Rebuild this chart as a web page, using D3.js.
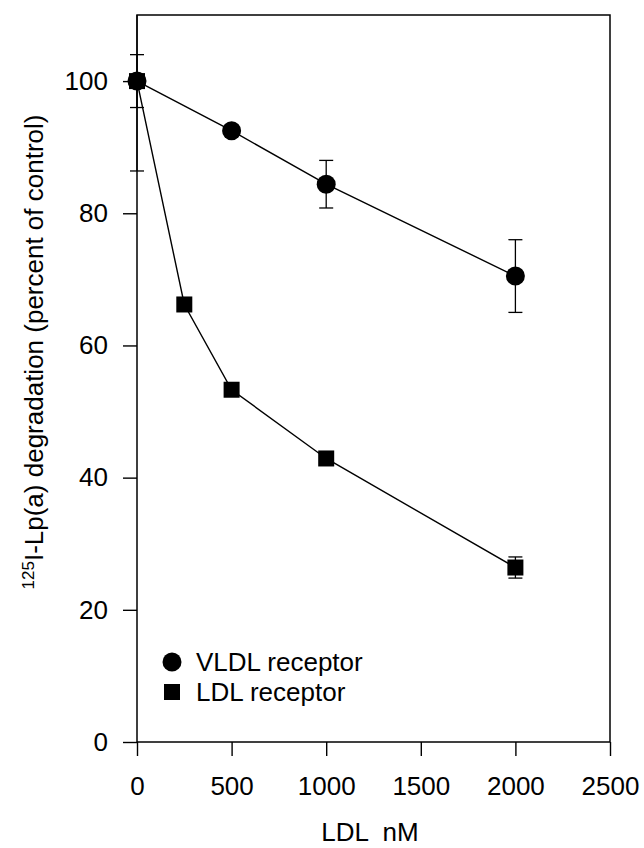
<!DOCTYPE html>
<html>
<head>
<meta charset="utf-8">
<script src="https://cdn.jsdelivr.net/npm/d3@7"></script>
<style>
  body { margin: 0; background: #fff; }
  text { font-family: "Liberation Sans", Arial, sans-serif; fill: #000; }
</style>
</head>
<body>
<div id="chart"></div>
<script>
// LDL concentration (nM)
const vldlX = [0, 500, 1000, 2000];
const vldlY = [100, 92.5, 84.4, 70.5];
const vldlErr = [4, 0.8, 3.6, 5.5];

const ldlX = [0, 250, 500, 1000, 2000];
const ldlY = [100, 66.2, 53.3, 42.9, 26.4];
const ldlErr = [13.6, 1.0, 0.6, 0.6, 1.6];

const xTicks = [0, 500, 1000, 1500, 2000, 2500];
const yTicks = [0, 20, 40, 60, 80, 100];
const seriesNames = ["VLDL receptor", "LDL receptor"];

const width = 644, height = 848;
const margin = {top: 15, right: 34, bottom: 106, left: 137};
const fs = 26;

const svg = d3.select("#chart").append("svg")
    .attr("width", width)
    .attr("height", height);

const x = d3.scaleLinear().domain([0, 2500]).range([margin.left, width - margin.right]);
const y = d3.scaleLinear().domain([0, 110]).range([height - margin.bottom, margin.top]);

// frame
svg.append("rect")
    .attr("x", x(0)).attr("y", y(110))
    .attr("width", x(2500) - x(0)).attr("height", y(0) - y(110))
    .attr("fill", "none").attr("stroke", "#000").attr("stroke-width", 1.5);

const xAxis = d3.axisBottom(x).tickValues(xTicks).tickSize(14).tickPadding(21).tickFormat(d3.format("d"));
const yAxis = d3.axisLeft(y).tickValues(yTicks).tickSize(14).tickPadding(15);

svg.append("g")
    .attr("transform", "translate(0," + y(0) + ")")
    .call(xAxis)
    .call(g => g.select(".domain").remove())
    .call(g => g.selectAll("line").attr("stroke-width", 1.4))
    .call(g => g.selectAll("text").attr("font-size", fs).attr("font-family", "Liberation Sans, Arial, sans-serif"));

svg.append("g")
    .attr("transform", "translate(" + x(0) + ",0)")
    .call(yAxis)
    .call(g => g.select(".domain").remove())
    .call(g => g.selectAll("line").attr("stroke-width", 1.4))
    .call(g => g.selectAll("text").attr("font-size", fs).attr("font-family", "Liberation Sans, Arial, sans-serif"));

// axis titles
svg.append("text")
    .attr("x", 370).attr("y", 841)
    .attr("text-anchor", "middle")
    .attr("font-size", fs)
    .attr("xml:space", "preserve")
    .text("LDL  nM");

const yTitle = svg.append("text")
    .attr("transform", "translate(43,352) rotate(-90)")
    .attr("text-anchor", "middle")
    .attr("font-size", fs);
yTitle.append("tspan").attr("font-size", 17).attr("dy", -9).text("125");
yTitle.append("tspan").attr("dy", 9).text("I-Lp(a) degradation (percent of control)");

// clip for error bars beyond the frame
svg.append("clipPath").attr("id", "plotClip")
    .append("rect")
    .attr("x", x(0) - 20).attr("y", y(110))
    .attr("width", x(2500) - x(0) + 40).attr("height", y(0) - y(110));

const plot = svg.append("g").attr("clip-path", "url(#plotClip)");

const line = d3.line().x(d => x(d[0])).y(d => y(d[1]));

function drawErrors(xs, ys, es) {
    xs.forEach((xv, i) => {
        const g = plot.append("g").attr("stroke", "#000").attr("stroke-width", 1.3);
        g.append("line").attr("x1", x(xv)).attr("x2", x(xv))
            .attr("y1", y(ys[i] + es[i])).attr("y2", y(ys[i] - es[i]));
        [ys[i] + es[i], ys[i] - es[i]].forEach(v => {
            g.append("line").attr("x1", x(xv) - 7).attr("x2", x(xv) + 7)
                .attr("y1", y(v)).attr("y2", y(v));
        });
    });
}

drawErrors(ldlX, ldlY, ldlErr);
drawErrors(vldlX, vldlY, vldlErr);

plot.append("path")
    .datum(ldlX.map((d, i) => [d, ldlY[i]]))
    .attr("d", line).attr("fill", "none").attr("stroke", "#000").attr("stroke-width", 1.4);
plot.append("path")
    .datum(vldlX.map((d, i) => [d, vldlY[i]]))
    .attr("d", line).attr("fill", "none").attr("stroke", "#000").attr("stroke-width", 1.4);

const sq = 16;
plot.selectAll(".sq")
    .data(ldlX.map((d, i) => [d, ldlY[i]]))
    .join("rect")
    .attr("x", d => x(d[0]) - sq / 2).attr("y", d => y(d[1]) - sq / 2)
    .attr("width", sq).attr("height", sq).attr("fill", "#000");

plot.selectAll(".circ")
    .data(vldlX.map((d, i) => [d, vldlY[i]]))
    .join("circle")
    .attr("cx", d => x(d[0])).attr("cy", d => y(d[1]))
    .attr("r", 9.5).attr("fill", "#000");

// legend
const legend = svg.append("g");
legend.append("circle").attr("cx", 172).attr("cy", 662).attr("r", 9.5).attr("fill", "#000");
legend.append("rect").attr("x", 164).attr("y", 684).attr("width", sq).attr("height", sq).attr("fill", "#000");
legend.append("text").attr("x", 196).attr("y", 671).attr("font-size", fs).text(seriesNames[0]);
legend.append("text").attr("x", 196).attr("y", 701).attr("font-size", fs).text(seriesNames[1]);
</script>
</body>
</html>
